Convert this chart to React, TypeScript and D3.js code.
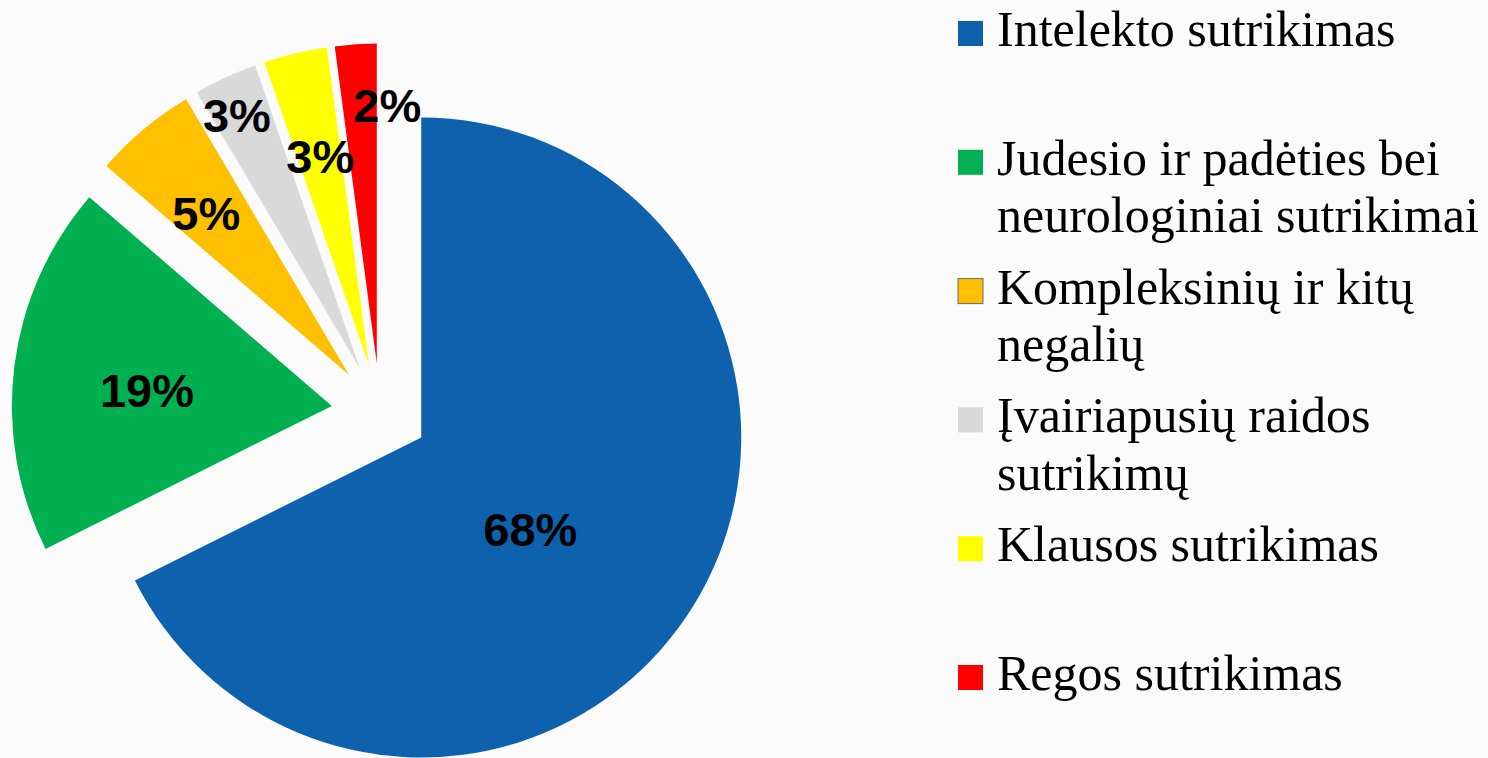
import React from "react";
import * as d3 from "d3";

const categories = [
  "Intelekto sutrikimas",
  "Judesio ir padėties bei neurologiniai sutrikimai",
  "Kompleksinių ir kitų negalių",
  "Įvairiapusių raidos sutrikimų",
  "Klausos sutrikimas",
  "Regos sutrikimas",
];
const values = [67.7, 18.7, 5.2, 3.2, 3.2, 2.1];
const legendLines = [
  ["Intelekto sutrikimas"],
  ["Judesio ir padėties bei", "neurologiniai sutrikimai"],
  ["Kompleksinių ir kitų", "negalių"],
  ["Įvairiapusių raidos", "sutrikimų"],
  ["Klausos sutrikimas"],
  ["Regos sutrikimas"],
];
const colors = ["#0e61ad", "#00b050", "#ffc000", "#d9d9d9", "#ffff00", "#ff0000"];

// label placement (fraction of radius, angle shift in degrees)
const labelPos = [
  [0.446, 8.4],
  [0.58, -2.3],
  [0.675, -1.4],
  [0.878, -1.1],
  [0.67, 0.2],
  [0.81, 6.1],
];

const W = 1488,
  H = 758;
const cx = 380,
  cy = 412,
  radius = 320,
  explode = 48.5;

const App = () => {
  const data = categories.map((c, i) => ({ name: c, value: values[i], i }));
  const total = d3.sum(values);
  const pie = d3
    .pie<any>()
    .sort(null)
    .value((d) => d.value)
    .startAngle(0)
    .endAngle(2 * Math.PI);
  const arcs = pie(data);
  const arc = d3.arc<any>().innerRadius(0).outerRadius(radius);
  const pct = d3.format(".0%");

  const legendX = 958,
    legendY0 = 46,
    legendStep = 128.8,
    lineH = 57.5,
    sq = 25;

  const offset = (a: any) => {
    const mid = (a.startAngle + a.endAngle) / 2;
    return [Math.sin(mid) * explode, -Math.cos(mid) * explode, mid];
  };

  return (
    <svg
      width={W}
      height={H}
      style={{ position: "absolute", left: 0, top: 0 }}
    >
      <rect width={W} height={H} fill="#fbfbfb" />
      <g transform={`translate(${cx},${cy})`}>
        {arcs.map((a, i) => {
          const [ox, oy] = offset(a);
          return (
            <path
              key={i}
              transform={`translate(${ox},${oy})`}
              d={arc(a) as string}
              fill={colors[i]}
            />
          );
        })}
        {arcs.map((a, i) => {
          const [ox, oy, mid] = offset(a);
          const ang = mid + (labelPos[i][1] * Math.PI) / 180;
          const lr = labelPos[i][0] * radius;
          return (
            <text
              key={i}
              x={ox + Math.sin(ang) * lr}
              y={oy - Math.cos(ang) * lr}
              dy="0.36em"
              textAnchor="middle"
              fontFamily="'Liberation Sans', Arial, sans-serif"
              fontWeight="bold"
              fontSize={47}
              fill="#000"
            >
              {pct(a.data.value / total)}
            </text>
          );
        })}
      </g>
      <g>
        {legendLines.map((lines, i) => {
          const by = legendY0 + i * legendStep;
          return (
            <g key={i}>
              <rect
                x={legendX}
                y={by - sq}
                width={sq}
                height={sq}
                fill={colors[i]}
                stroke={i === 2 ? "#6b6b6b" : "none"}
                strokeWidth={i === 2 ? 1 : 0}
              />
              {lines.map((t, j) => (
                <text
                  key={j}
                  x={legendX + 39}
                  y={by + j * lineH}
                  fontFamily="'Liberation Serif', 'Times New Roman', serif"
                  fontSize={50}
                  fill="#000"
                >
                  {t}
                </text>
              ))}
            </g>
          );
        })}
      </g>
    </svg>
  );
};

export default App;
